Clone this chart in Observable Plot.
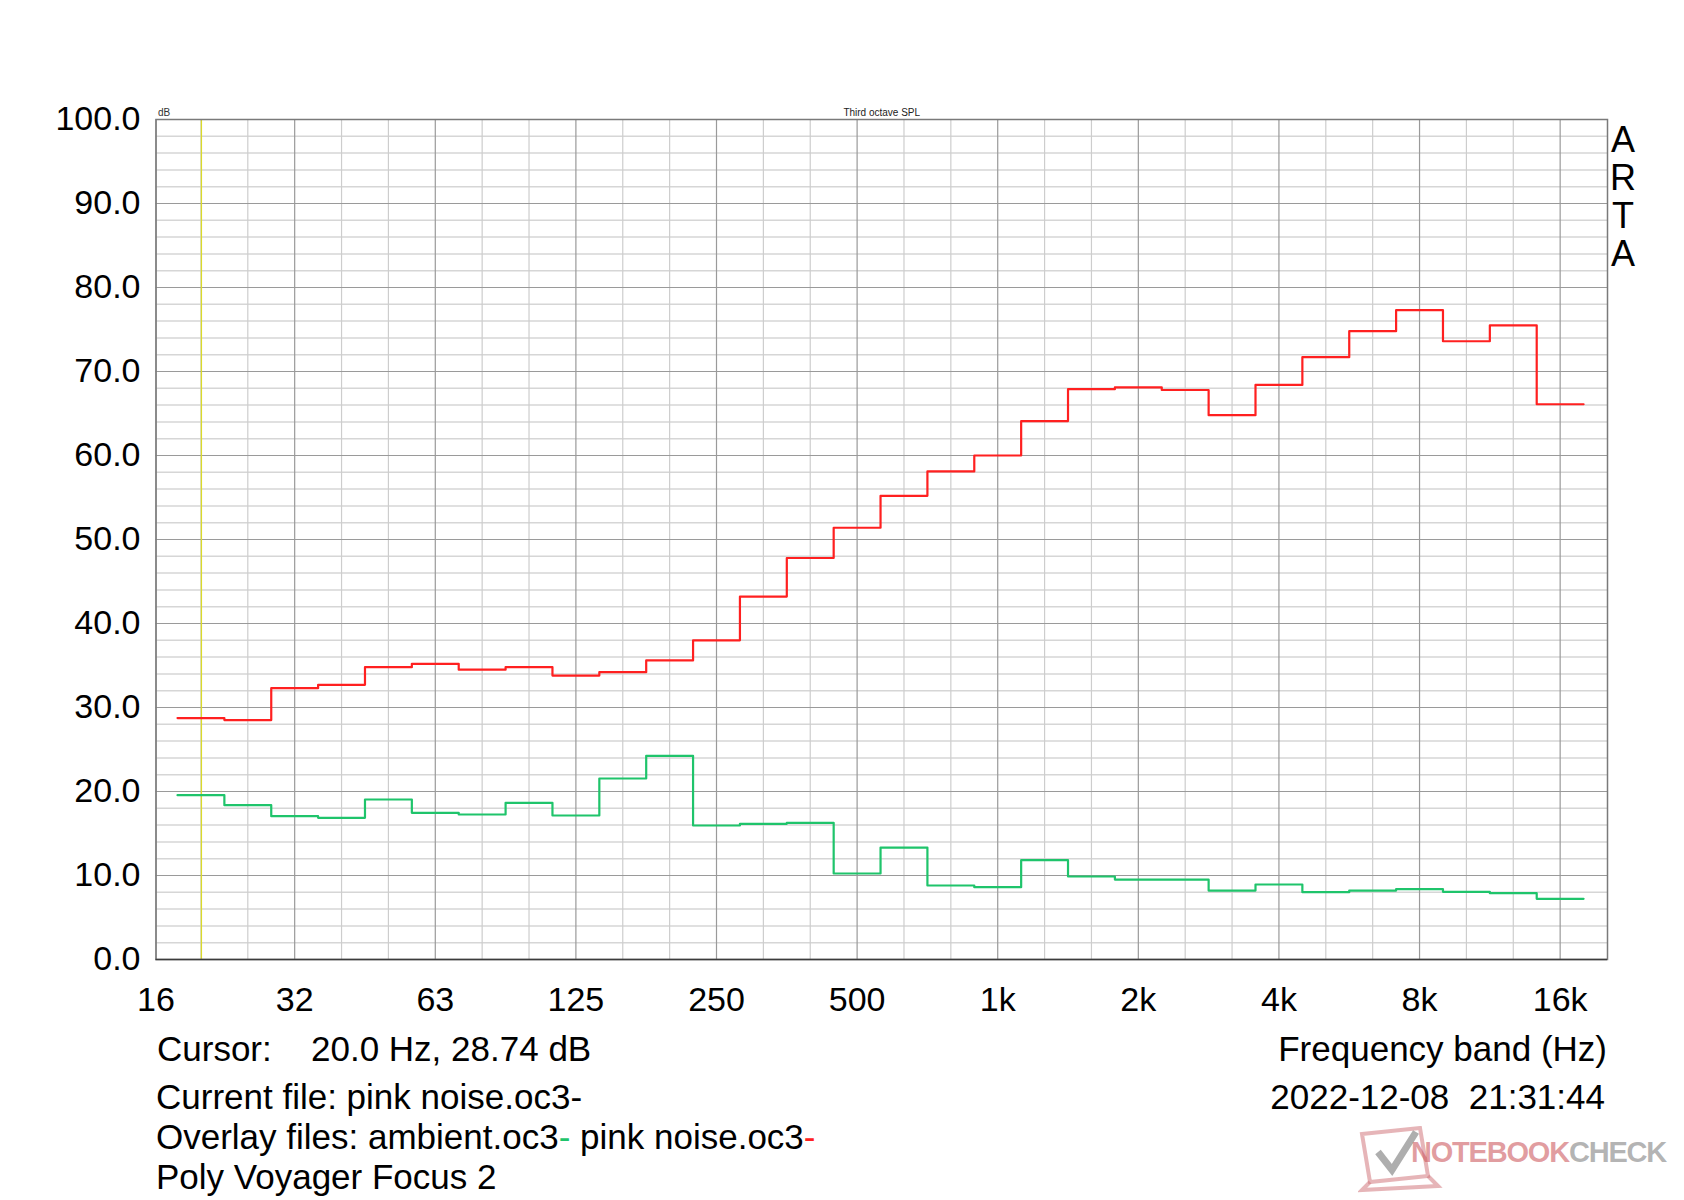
<!DOCTYPE html>
<html><head><meta charset="utf-8">
<script src="https://cdn.jsdelivr.net/npm/d3@7"></script>
<script src="https://cdn.jsdelivr.net/npm/@observablehq/plot@0.6"></script>
<style>
body{margin:0;background:#fff;}
#wrap{position:relative;width:1684px;height:1200px;font-family:"Liberation Sans",Arial,sans-serif;background:#fff;overflow:hidden;}
#chart{position:absolute;left:0;top:0;}
.t{position:absolute;font-size:35px;line-height:35px;white-space:pre;color:#000;}
.wm{position:absolute;font-size:29px;line-height:29px;font-weight:bold;white-space:pre;letter-spacing:-1.2px;}
#logo{position:absolute;left:1358px;top:1126px;}
</style></head><body>
<div id="wrap">
<div id="chart"></div>
<div class="t" style="left:157px;top:1031px">Cursor:</div>
<div class="t" style="left:311px;top:1031px">20.0 Hz, 28.74 dB</div>
<div class="t" style="right:77px;top:1031px">Frequency band (Hz)</div>
<div class="t" style="left:156px;top:1079px">Current file: pink noise.oc3-</div>
<div class="t" style="right:79px;top:1079px">2022-12-08  21:31:44</div>
<div class="t" style="left:156px;top:1119px">Overlay files: ambient.oc3<span style="color:#1fc46b">-</span> pink noise.oc3<span style="color:#ff2020">-</span></div>
<div class="t" style="left:156px;top:1159px">Poly Voyager Focus 2</div>
<svg id="logo" width="90" height="70" viewBox="0 0 90 70">
  <path d="M4 8 L62 2 L70 50 L12 56 Z" fill="none" stroke="rgba(210,120,125,0.55)" stroke-width="4"/>
  <path d="M12 56 L4 64 L80 60 L70 50" fill="none" stroke="rgba(210,120,125,0.55)" stroke-width="4"/>
  <path d="M20 26 L34 44 L58 6" fill="none" stroke="rgba(120,120,120,0.6)" stroke-width="7"/>
</svg>
<div class="wm" style="left:1411px;top:1138px"><span style="color:rgba(205,90,95,0.6)">NOTEBOOK</span><span style="color:rgba(130,130,130,0.6)">CHECK</span></div>
</div>
<script>
// Third-octave band nominal centre frequencies (Hz)
const bandHz = [20,25,31.5,40,50,63,80,100,125,160,200,250,315,400,500,630,800,1000,1250,1600,2000,2500,3150,4000,5000,6300,8000,10000,12500,16000];
// pink noise.oc3 (red), dB
const pinkNoise = [28.74,28.5,32.3,32.7,34.8,35.2,34.5,34.8,33.8,34.2,35.6,38.0,43.2,47.8,51.4,55.2,58.1,60.0,64.1,67.9,68.1,67.8,64.8,68.4,71.7,74.8,77.3,73.6,75.5,66.1];
// ambient.oc3 (green), dB
const ambient = [19.56,18.37,17.06,16.87,19.05,17.46,17.26,18.65,17.14,21.55,24.25,15.95,16.15,16.27,10.24,13.33,8.81,8.61,11.83,9.88,9.52,9.52,8.21,8.93,8.02,8.21,8.37,8.06,7.9,7.22];
// x tick labels (octave grid)
const xTickLabels = ["16","32","63","125","250","500","1k","2k","4k","8k","16k"];
// y ticks
const yTicks = [0,10,20,30,40,50,60,70,80,90,100];
const cursorHz = 20.0;

const xDomain = [16, 20000];
// grid positions on the base-10 third-octave series 10^(k/10)
const gridK = d3.range(13, 43);
const majorX = d3.range(12, 43, 3).map(k => Math.max(xDomain[0], Math.pow(10, k / 10)));
const xTicks = majorX.map((v, i) => ({v, label: xTickLabels[i]}));
const minorX = gridK.filter(k => k % 3 !== 0).map(k => Math.pow(10, k / 10));
const minorY = d3.range(2, 100, 2).filter(v => v % 10 !== 0);
const majorY = yTicks.filter(v => v > 0 && v < 100);

function steps(values) {
  const pts = [];
  bandHz.forEach((f, i) => {
    const k = Math.round(10 * Math.log10(f));
    pts.push({f: Math.pow(10, (k - 0.5) / 10), v: values[i]});
    pts.push({f: Math.pow(10, (k + 0.5) / 10), v: values[i]});
  });
  return pts;
}

const chart = Plot.plot({
  width: 1684,
  height: 1020,
  marginLeft: 155.5,
  marginRight: 77,
  marginTop: 119,
  marginBottom: 61,
  style: {fontFamily: "'Liberation Sans', Arial, sans-serif", background: "white", color: "black", overflow: "visible"},
  x: {type: "log", domain: xDomain, axis: null},
  y: {domain: [0, 100]},
  marks: [
    Plot.ruleY(minorY, {stroke: "#d6d6d6", strokeWidth: 1.5}),
    Plot.ruleX(minorX, {stroke: "#cdcdcd", strokeWidth: 1.2}),
    Plot.ruleY(majorY, {stroke: "#9a9a9a", strokeWidth: 1.2}),
    Plot.ruleX(majorX, {stroke: "#9a9a9a", strokeWidth: 1.2}),
    Plot.ruleX([cursorHz], {stroke: "#dada2a", strokeWidth: 1.3}),
    Plot.line(steps(ambient), {x: "f", y: "v", stroke: "#1fc46b", strokeWidth: 2.2}),
    Plot.line(steps(pinkNoise), {x: "f", y: "v", stroke: "#ff2020", strokeWidth: 2.2}),
    Plot.frame({stroke: "#7a7a7a", strokeWidth: 1.5}),
    Plot.ruleY([0], {stroke: "#3c3c3c", strokeWidth: 1.5}),
    Plot.text(xTicks, {x: "v", text: "label", frameAnchor: "bottom", lineAnchor: "top", dy: 27, fontSize: 34, fill: "black"}),
    Plot.axisY({ticks: yTicks, tickSize: 0, tickPadding: 15.5, fontSize: 34, label: null,
      tickFormat: d => d.toFixed(1)}),
    Plot.text(["dB"], {frameAnchor: "top-left", lineAnchor: "bottom", dx: 2, dy: -4, fontSize: 10, fill: "#333"}),
    Plot.text(["Third octave SPL"], {frameAnchor: "top", lineAnchor: "bottom", dy: -4, fontSize: 10, fill: "#222"}),
    Plot.text(["A\nR\nT\nA"], {frameAnchor: "top-right", textAnchor: "middle", lineAnchor: "top", dx: 15.5, dy: 6, fontSize: 36, lineHeight: 1.055, fill: "black"})
  ]
});
document.getElementById("chart").appendChild(chart);
</script>
</body></html>
